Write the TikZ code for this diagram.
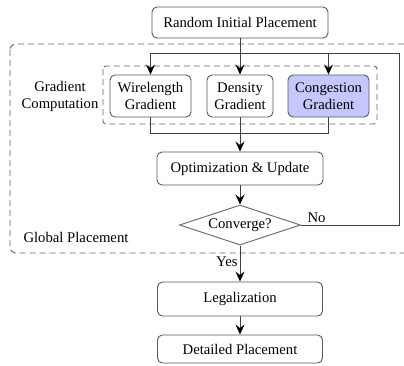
\documentclass[tikz,border=0pt]{standalone}
\usepackage{fontspec}
\setmainfont{Liberation Serif}
\usetikzlibrary{shapes.geometric,arrows.meta}
\begin{document}
\begin{tikzpicture}[x=1pt,y=-1pt,
  font=\fontsize{14.7}{17}\selectfont,
  box/.style={draw=black!65, line width=0.9pt, rounded corners=5pt, align=center, inner sep=0pt},
  hilite/.style={box, fill=blue!22},
  decision/.style={draw=black!55, line width=1pt, diamond, aspect=3, inner sep=1pt,
    minimum width=121pt, minimum height=40pt},
  grp/.style={draw=black!60, line width=0.9pt, dash pattern=on 6pt off 4pt},
  link/.style={draw=black!75, line width=0.9pt},
  arr/.style={link, -{Stealth[length=10pt,width=9pt,inset=3.5pt,black]}}
]
\useasboundingbox (0,0) rectangle (404,365);

% group frames
\begin{scope}
\clip (0,0) rectangle (404,365);
\draw[grp, rounded corners=6pt] (10,44) rectangle (430,253);
\end{scope}
\draw[grp, rounded corners=3pt] (103,66) rectangle (377,124);

% process boxes
\node[box, minimum width=176pt, minimum height=31pt] (init) at (240,22.5) {Random Initial Placement};
\node[box, minimum width=81pt, minimum height=42pt] (wl) at (150.5,96) {Wirelength\\Gradient};
\node[box, minimum width=66pt, minimum height=42pt] (dens) at (240,96) {Density\\Gradient};
\node[hilite, minimum width=81pt, minimum height=42pt] (cong) at (328.5,96) {Congestion\\Gradient};
\node[box, minimum width=166pt, minimum height=33pt] (opt) at (240,168.5) {Optimization \& Update};
\node[decision] (conv) at (240,225) {Converge?};
\node[box, minimum width=165pt, minimum height=34pt] (leg) at (240,299) {Legalization};
\node[box, minimum width=165pt, minimum height=28pt] (det) at (240,349) {Detailed Placement};

% group labels
\node[align=center] (gclab) at (60,96) {Gradient\\Computation};
\node[anchor=west] (gplab) at (20,237) {Global Placement};

% fan-out to the gradient blocks
\coordinate (split) at (240,53);
\coordinate (loop) at (399,53);
\coordinate (join) at (240,133);
\draw[link] (init) -- (split);
\draw[link] (wl.north |- split) -- (loop);
\draw[arr] (wl.north |- split) -- (wl.north);
\draw[arr] (split) -- (dens.north);
\draw[arr] (cong.north |- split) -- (cong.north);

% merge into the update step
\draw[link] (wl.south) -- (wl.south |- join) -- (cong.south |- join) -- (cong.south);
\draw[link] (dens.south) -- (join);
\draw[arr] (join) -- (opt.north);

\draw[arr] (opt) -- (conv);
\draw[link] (conv.east) -- (conv.east -| loop) -- (loop);
\node[anchor=south west] (nolab) at ([xshift=3pt,yshift=-1pt]conv.east) {No};

\draw[arr] (conv.south) -- node[left, pos=0.45, inner sep=2pt] (yeslab) {Yes} (leg.north);
\draw[arr] (leg) -- (det);
\end{tikzpicture}
\end{document}
